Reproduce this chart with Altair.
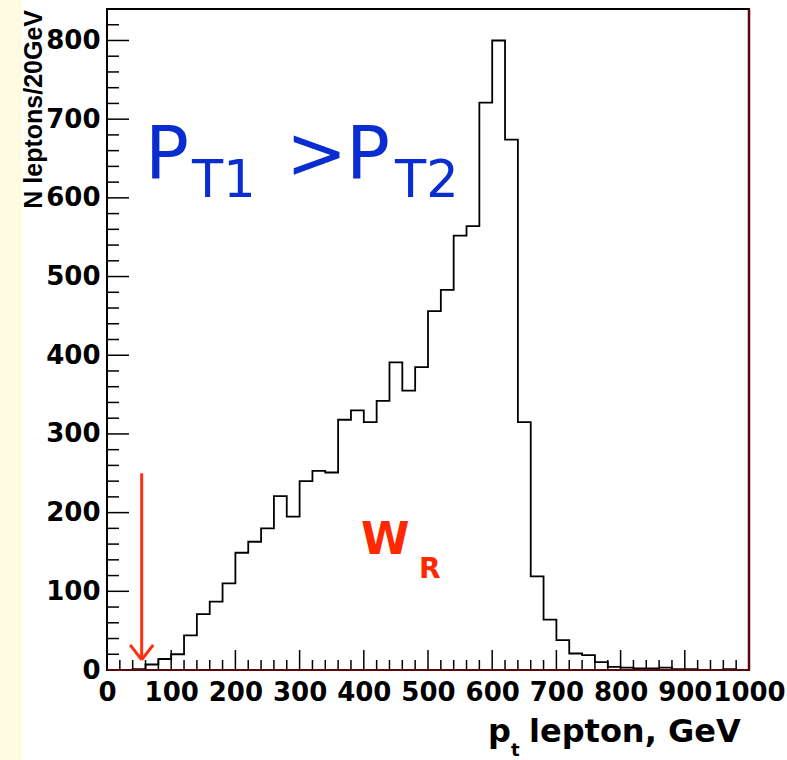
import altair as alt
import pandas as pd

# ---- data ----
counts = [0, 0, 1, 7, 14, 20, 44, 71, 87, 110,
          149, 163, 180, 221, 195, 240, 253, 251, 318, 330,
          315, 342, 391, 355, 385, 456, 483, 552, 564, 721,
          800, 674, 315, 119, 64, 38, 21, 19, 10, 4,
          3, 2, 2, 3, 1, 1, 0, 0, 1, 0]
bin_width = 20
x_major = list(range(0, 1001, 100))
x_minor = [v for v in range(0, 1001, 20) if v % 100]
y_major = list(range(0, 801, 100))
y_minor = [v for v in range(0, 821, 20) if v % 100]

# ---- layout ----
W, H = 642, 661
X_DOM = [0, 1000]
Y_DOM = [0, 840]
BOLD_FONT = "DejaVu Sans"

xs = alt.Scale(domain=X_DOM, nice=False, zero=False)
ys = alt.Scale(domain=Y_DOM, nice=False, zero=False)

edges = [i * bin_width for i in range(len(counts))] + [len(counts) * bin_width]
hist_df = pd.DataFrame({"x": edges, "y": counts + [counts[-1]]})

hist = alt.Chart(hist_df).mark_line(
    interpolate="step-after", color="black", strokeWidth=1.8
).encode(
    x=alt.X("x:Q", scale=xs, title=None,
            axis=alt.Axis(values=x_major, format="d", ticks=False, domain=False,
                          grid=False, labelFont=BOLD_FONT, labelFontWeight="bold",
                          labelFontSize=26, labelColor="black", labelPadding=9,
                          labelOverlap=False, labelFlush=False, tickSize=0)),
    y=alt.Y("y:Q", scale=ys, title=None,
            axis=alt.Axis(values=y_major, format="d", ticks=False, domain=False,
                          grid=False, labelFont=BOLD_FONT, labelFontWeight="bold",
                          labelFontSize=26, labelColor="black", labelPadding=7,
                          labelOverlap=False, labelFlush=False, tickSize=0)),
)


def xticks(vals, length):
    return alt.Chart(pd.DataFrame({"x": vals})).mark_rule(
        color="black", strokeWidth=1.5
    ).encode(x=alt.X("x:Q", scale=xs, title=None),
             y=alt.value(H), y2=alt.value(H - length))


def yticks(vals, length):
    return alt.Chart(pd.DataFrame({"y": vals})).mark_rule(
        color="black", strokeWidth=1.5
    ).encode(y=alt.Y("y:Q", scale=ys, title=None),
             x=alt.value(0), x2=alt.value(length))


one = pd.DataFrame({"a": [0]})


def label(text, x, y, size, color="black", weight="normal", font=BOLD_FONT,
          align="left", angle=0, baseline="alphabetic"):
    kw = dict(text=text, fontSize=size, color=color, fontWeight=weight,
              font=font, align=align, baseline=baseline)
    if angle:
        kw["angle"] = angle
    return alt.Chart(one).mark_text(**kw).encode(x=alt.value(x), y=alt.value(y))


MAROON = "#5a0808"
frame_right = alt.Chart(one).mark_rule(color=MAROON, strokeWidth=2.5).encode(
    x=alt.value(W), y=alt.value(0), y2=alt.value(H))
frame_bottom = alt.Chart(one).mark_rule(color=MAROON, strokeWidth=2.2).encode(
    x=alt.value(0), x2=alt.value(W), y=alt.value(H))

yellow_strip = alt.Chart(one).mark_rect(color="#fffbe0").encode(
    x=alt.value(-107), x2=alt.value(-85), y=alt.value(-9), y2=alt.value(H + 90))

# red arrow (annotation)
ARROW_RED = "#ff3010"
arrow_df = pd.DataFrame({
    "x": [54, 36, 72], "y": [250, 32, 32], "x2": [54, 54, 54], "y2": [13, 13, 13]})
arrow = alt.Chart(arrow_df).mark_rule(color=ARROW_RED, strokeWidth=3).encode(
    x=alt.X("x:Q", scale=xs, title=None), x2="x2:Q",
    y=alt.Y("y:Q", scale=ys, title=None), y2="y2:Q")

BLUE = "#0a2dd2"
RED = "#ff2800"
annotations = [
    label("P", 38, 169, 73, color=BLUE, font="DejaVu Sans"),
    label("T1", 85, 188, 51, color=BLUE, font="DejaVu Sans"),
    label(">", 179, 169, 73, color=BLUE, font="DejaVu Sans"),
    label("P", 239, 169, 73, color=BLUE, font="DejaVu Sans"),
    label("T2", 288, 188, 51, color=BLUE, font="DejaVu Sans"),
    label("W", 254, 545, 44, color=RED, weight="bold"),
    label("R", 312, 569, 28, color=RED, weight="bold"),
    # axis titles
    label("p", 381, 733, 32, weight="bold"),
    label("t", 404, 747, 18, weight="bold"),
    label("lepton, GeV", 422, 733, 32, weight="bold"),
    label("N leptons/20GeV", -65, 1, 25, weight="bold", font="Liberation Sans",
          align="right", angle=270),
]

chart = alt.layer(
    yellow_strip,
    hist,
    xticks(x_major, 20), xticks(x_minor, 10),
    yticks(y_major, 22), yticks(y_minor, 12),
    frame_right, frame_bottom,
    arrow,
    *annotations,
).properties(
    width=W, height=H,
    autosize=alt.AutoSizeParams(type="none"),
    padding={"left": 107, "top": 9, "right": 38, "bottom": 90},
    background="white",
).configure_view(
    stroke="black", strokeWidth=2, fill="white"
)

chart.save("out.html", embed_options={"renderer": "svg", "actions": False})
